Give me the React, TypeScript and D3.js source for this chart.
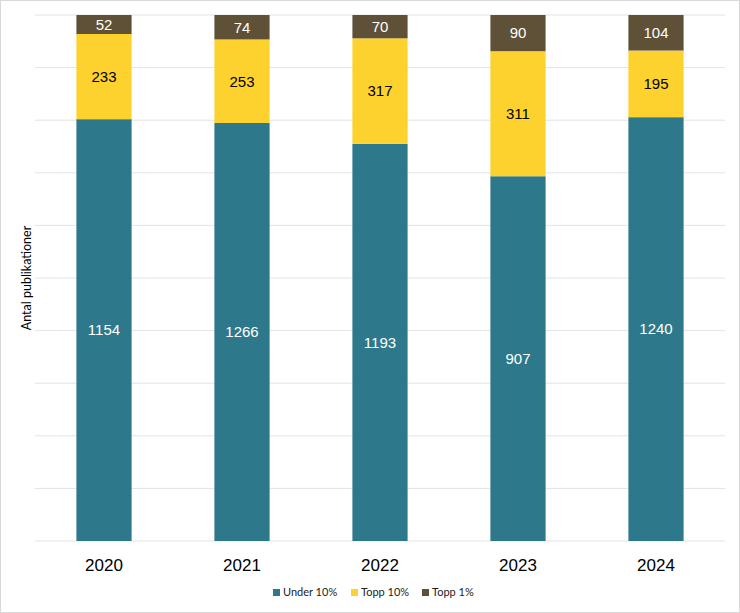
import * as d3 from 'd3'

const years = ['2020', '2021', '2022', '2023', '2024']
const under10 = [1154, 1266, 1193, 907, 1240]
const topp10 = [233, 253, 317, 311, 195]
const topp1 = [52, 74, 70, 90, 104]

const seriesNames = ['Under 10%', 'Topp 10%', 'Topp 1%']
const colors = ['#2e788b', '#fdd22e', '#5f5137']
const labelColors = ['#ffffff', '#000000', '#ffffff']

const W = 740
const H = 613
const plot = { left: 35, right: 725, top: 15, bottom: 541 }

const App = () => {
  const rows = years.map((y, i) => ({
    year: y,
    'Under 10%': under10[i],
    'Topp 10%': topp10[i],
    'Topp 1%': topp1[i],
  }))
  const stacked = d3.stack<any>().keys(seriesNames).offset(d3.stackOffsetExpand)(rows)

  const x = d3.scaleBand<string>().domain(years).range([plot.left, plot.right]).paddingInner(0.6).paddingOuter(0.3)
  const y = d3.scaleLinear().domain([0, 1]).range([plot.bottom, plot.top])
  const ticks = d3.range(0, 11).map((d) => d / 10)

  const legendX = [273, 351, 422]

  return (
    <svg width={W} height={H} style={{ position: 'absolute', left: 0, top: 0 }}>
      <rect x={0.5} y={0.5} width={W - 1} height={H - 1} fill="#fff" stroke="#d9d9d9" />
      {ticks.map((t) => (
        <line key={t} x1={plot.left} x2={plot.right} y1={y(t)} y2={y(t)} stroke="#e3e3e3" strokeWidth={1} />
      ))}
      {stacked.map((s, si) => (
        <g key={s.key}>
          {s.map((d, i) => (
            <rect
              key={i}
              x={x(years[i])}
              width={x.bandwidth()}
              y={y(d[1])}
              height={y(d[0]) - y(d[1])}
              fill={colors[si]}
            />
          ))}
          {s.map((d, i) => (
            <text
              key={'t' + i}
              x={(x(years[i]) ?? 0) + x.bandwidth() / 2}
              y={(y(d[0]) + y(d[1])) / 2}
              dy="0.36em"
              textAnchor="middle"
              fontFamily="Liberation Sans, Arial, sans-serif"
              fontSize={15}
              fill={labelColors[si]}
            >
              {(rows[i] as any)[s.key]}
            </text>
          ))}
        </g>
      ))}
      {years.map((yr) => (
        <text
          key={yr}
          x={(x(yr) ?? 0) + x.bandwidth() / 2}
          y={571}
          textAnchor="middle"
          fontFamily="Liberation Sans, Arial, sans-serif"
          fontSize={17}
          fill="#000"
        >
          {yr}
        </text>
      ))}
      <text
        transform={`translate(31,${(plot.top + plot.bottom) / 2}) rotate(-90)`}
        textAnchor="middle"
        fontFamily="Lato, sans-serif"
        fontSize={12.5}
        fill="#000"
      >
        Antal publikationer
      </text>
      {seriesNames.map((n, i) => (
        <g key={n}>
          <rect x={legendX[i]} y={589} width={7} height={7} fill={colors[i]} />
          <text x={legendX[i] + 10} y={596} fontFamily="Lato, sans-serif" fontSize={11} fill="#222">
            {n}
          </text>
        </g>
      ))}
    </svg>
  )
}

export default App
